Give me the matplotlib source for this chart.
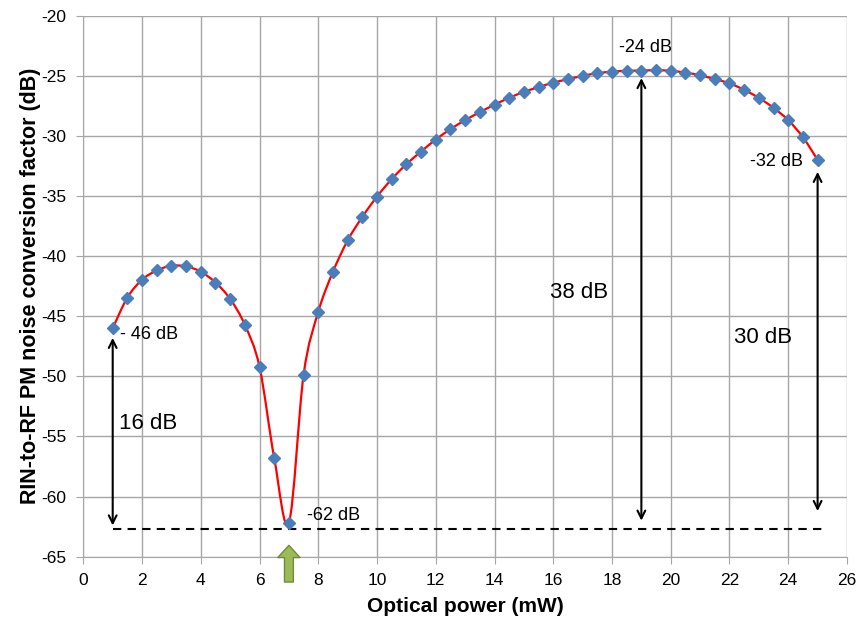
import numpy as np
import matplotlib
matplotlib.use("Agg")
import matplotlib.pyplot as plt
from matplotlib.path import Path
from matplotlib.patches import PathPatch

plt.rcParams['font.family'] = ['Liberation Sans', 'DejaVu Sans']
plt.rcParams['axes.unicode_minus'] = False

# optical power (mW), 1 to 25 by 0.5
power = [1, 1.5, 2, 2.5, 3, 3.5, 4, 4.5, 5, 5.5, 6, 6.5, 7, 7.5, 8, 8.5, 9, 9.5,
         10, 10.5, 11, 11.5, 12, 12.5, 13, 13.5, 14, 14.5, 15, 15.5, 16, 16.5,
         17, 17.5, 18, 18.5, 19, 19.5, 20, 20.5, 21, 21.5, 22, 22.5, 23, 23.5,
         24, 24.5, 25]
# conversion factor (dB)
factor = [-46.0, -43.45, -41.97, -41.2, -40.8, -40.86, -41.3, -42.2, -43.57,
          -45.73, -49.22, -56.8, -62.18, -49.86, -44.63, -41.3, -38.7, -36.74,
          -35.05, -33.6, -32.36, -31.31, -30.31, -29.45, -28.7, -28.04, -27.41,
          -26.85, -26.35, -25.96, -25.58, -25.3, -25.02, -24.8, -24.67, -24.6,
          -24.58, -24.55, -24.6, -24.75, -24.97, -25.3, -25.63, -26.19, -26.85,
          -27.68, -28.7, -30.12, -32.0]

floor_level = -62.7
x_ticks = list(range(0, 27, 2))
y_ticks = list(range(-65, -19, 5))


def smooth_path(xs, ys):
    # excel style smoothed line: bezier pieces with catmull-rom handles
    p = np.column_stack([xs, ys]).astype(float)
    n = len(p)
    verts = [p[0]]
    codes = [Path.MOVETO]
    for i in range(n - 1):
        p0 = p[i - 1] if i > 0 else p[i]
        p3 = p[i + 2] if i + 2 < n else p[i + 1]
        c1 = p[i] + (p[i + 1] - p0) / 6.0
        c2 = p[i + 1] - (p3 - p[i]) / 6.0
        verts += [c1, c2, p[i + 1]]
        codes += [Path.CURVE4] * 3
    return Path(verts, codes)


fig = plt.figure(figsize=(8.59, 6.20), dpi=100)
ax = fig.add_axes([0.097, 0.102, 0.889, 0.873])

ax.add_patch(PathPatch(smooth_path(power, factor), fc='none', ec='#FF0000', lw=1.6, zorder=3))
ax.plot(power, factor, ls='none', marker='D', ms=6.5, color='#4A7EBB', zorder=4)

ax.set_xlim(0, 26)
ax.set_ylim(-65, -20)
ax.set_xticks(x_ticks)
ax.set_yticks(y_ticks)
ax.grid(True, color='#A6A6A6', lw=1)
ax.set_axisbelow(True)
for s in ['top', 'right']:
    ax.spines[s].set_visible(False)
for s in ['left', 'bottom']:
    ax.spines[s].set_color('#A6A6A6')
ax.tick_params(length=5, color='#A6A6A6', labelsize=12.5, labelcolor='black')
ax.tick_params(axis='y', pad=7)
ax.tick_params(axis='x', pad=7)

ax.set_xlabel('Optical power (mW)', fontsize=15, fontweight='bold', labelpad=6)
ax.set_ylabel('RIN-to-RF PM noise conversion factor (dB)', fontsize=15.5, fontweight='bold', labelpad=0)

# dashed reference level
ax.plot([power[0], 25.25], [floor_level, floor_level], ls=(0, (4, 3)), color='black', lw=1.5, zorder=2)

arr = dict(arrowstyle='<->', color='black', lw=1.5, shrinkA=0, shrinkB=0,
           mutation_scale=14)
ax.annotate('', xy=(1, -46.8), xytext=(1, -62.4), arrowprops=arr)
ax.annotate('', xy=(19, -25.2), xytext=(19, -62.0), arrowprops=arr)
ax.annotate('', xy=(25, -33.0), xytext=(25, -61.2), arrowprops=arr)

ax.text(1.25, -46.55, '- 46 dB', fontsize=13, va='center', ha='left')
ax.text(1.2, -53.9, '16 dB', fontsize=16, va='center', ha='left')
ax.text(7.6, -61.6, '-62 dB', fontsize=13, va='center', ha='left')
ax.text(19.15, -22.65, '-24 dB', fontsize=13, va='center', ha='center')
ax.text(24.5, -32.1, '-32 dB', fontsize=13, va='center', ha='right')
ax.text(15.9, -43.0, '38 dB', fontsize=16, va='center', ha='left')
ax.text(22.15, -46.8, '30 dB', fontsize=16, va='center', ha='left')

# green marker arrow under the dip
ax.annotate('', xy=(7, -64.05), xytext=(7, -67.1), annotation_clip=False,
            arrowprops=dict(arrowstyle='simple,head_length=0.55,head_width=1.0,tail_width=0.4',
                            fc='#9BBB59', ec='#6E8B3D', lw=1, mutation_scale=16,
                            shrinkA=0, shrinkB=0))

fig.savefig('out.png', dpi=100)
